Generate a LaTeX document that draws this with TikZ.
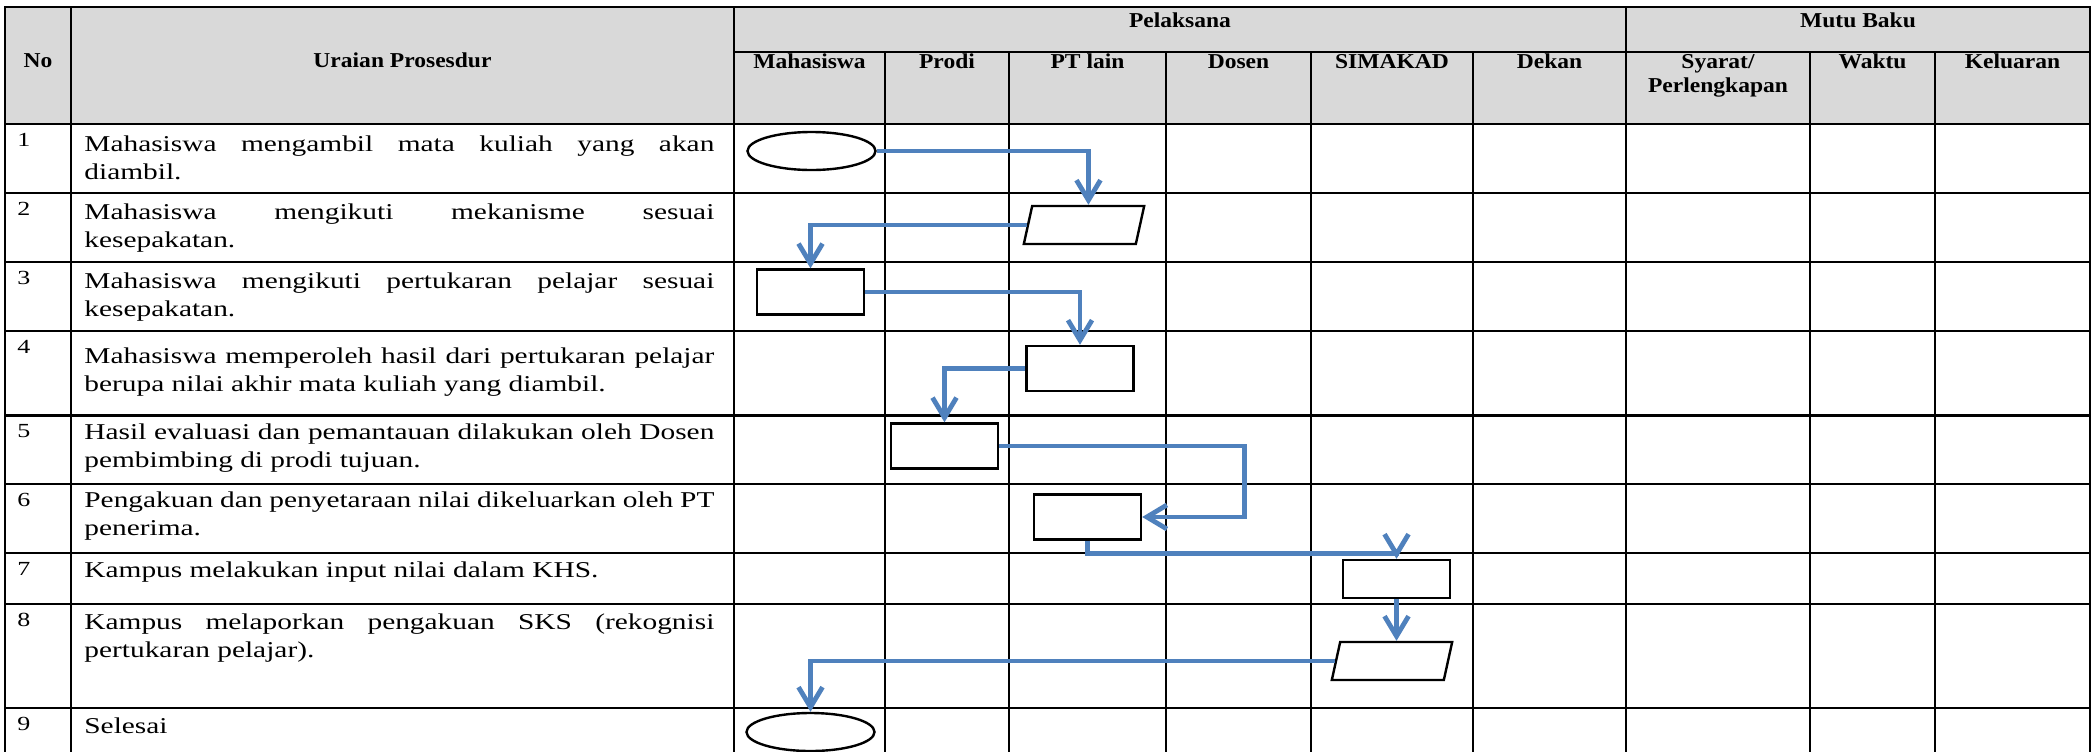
\documentclass[tikz,border=0pt]{standalone}
\usepackage{fontspec}
\usepackage{xcolor}
\usepackage{tikz}
\usetikzlibrary{arrows.meta,shapes.geometric}
\setmainfont{Liberation Serif}
\newfontfamily\bodyfont[FakeStretch=1.3]{Liberation Serif}
\newfontfamily\headfont[FakeStretch=1.11]{Liberation Serif}
\definecolor{hdrgray}{HTML}{D9D9D9}
\definecolor{flowblue}{HTML}{4F81BD}
\tikzset{fig/.style={x=0.5pt,y=-0.5pt,line join=miter},
  rule/.style={line width=1.3pt,line cap=rect},
  head/.style={inner sep=0pt,anchor=base,font=\headfont\bfseries\fontsize{10.6}{12}\selectfont},
  num/.style={inner sep=0pt,anchor=base west,font=\bodyfont\fontsize{10}{12}\selectfont},
  body/.style={inner sep=0pt,anchor=north west,text width=315pt,align=justify,
    font=\bodyfont\fontsize{11.3}{14}\selectfont,
    execute at begin node={\tolerance=10000\hyphenpenalty=10000}},
  termbox/.style={ellipse,draw,fill=white,line width=1.2pt,minimum width=64pt,minimum height=19pt,inner sep=0pt},
  procbox/.style={rectangle,draw,fill=white,line width=1.2pt,minimum width=53.5pt,minimum height=22.5pt,inner sep=0pt},
  iobox/.style={procbox,minimum width=56pt,minimum height=19pt,xslant=0.22},
  flowline/.style={flowblue,line width=2.4pt,-{Straight Barb[length=10pt,width=12pt]}}}
\begin{document}
\begin{tikzpicture}[fig]
  \useasboundingbox (0,0) rectangle (2094,751);
  \fill[white] (0,0) rectangle (2094,751);
  \fill[hdrgray] (5,7) rectangle (2090,124);
  \foreach \y in {7,124,193,262,331,415.5,484,553,604,708} \draw[rule] (5,\y) -- (2090,\y);
  \draw[rule] (734,52) -- (2090,52);
  \foreach \x in {5,71,734,1626,2090} \draw[rule] (\x,7) -- (\x,751);
  \foreach \x in {885,1009,1166,1311,1473,1810,1935} \draw[rule] (\x,52) -- (\x,751);
  \node[head] (hno) at (38,67) {No};
  \node[head] (hurai) at (402.5,67) {Uraian Prosesdur};
  \node[head] (hpel) at (1180,27) {Pelaksana};
  \node[head] (hmutu) at (1858,27) {Mutu Baku};
  \foreach \x/\t/\n in {809.5/Mahasiswa/hmhs,947/Prodi/hprodi,1087.5/PT lain/hpt,1238.5/Dosen/hdosen,1392/SIMAKAD/hsim,1549.5/Dekan/hdekan,1872.5/Waktu/hwaktu,2012.5/Keluaran/hkel}
    \node[head] (\n) at (\x,68) {\t};
  \node[head,anchor=north,align=center] (hsyarat) at (1718,54.5) {Syarat/\\Perlengkapan};
  \foreach \i/\y in {1/124,2/193,3/262,4/331,5/415.5,6/484,7/553,8/604,9/708}
    \node[num] (n\i) at (17,\y+22) {\i};
  \node[body] (u1) at (84,135.5) {Mahasiswa mengambil mata kuliah yang akan\linebreak diambil.};
  \node[body] (u2) at (84,203) {Mahasiswa mengikuti mekanisme sesuai\linebreak kesepakatan.};
  \node[body] (u3) at (84,272) {Mahasiswa mengikuti pertukaran pelajar sesuai\linebreak kesepakatan.};
  \node[body] (u4) at (84,347) {Mahasiswa memperoleh hasil dari pertukaran pelajar\linebreak berupa nilai akhir mata kuliah yang diambil.};
  \node[body] (u5) at (84,423.5) {Hasil evaluasi dan pemantauan dilakukan oleh Dosen\linebreak pembimbing di prodi tujuan.};
  \node[body] (u6) at (84,491.5) {Pengakuan dan penyetaraan nilai dikeluarkan oleh PT\linebreak penerima.};
  \node[body] (u7) at (84,561) {Kampus melakukan input nilai dalam KHS.};
  \node[body] (u8) at (84,613.5) {Kampus melaporkan pengakuan SKS (rekognisi\linebreak pertukaran pelajar).};
  \node[body] (u9) at (84,717.5) {Selesai};
  \node[termbox] (mulai) at (811.5,151) {};
  \node[iobox] (io2) at (1084,225) {};
  \node[procbox] (pr3) at (810.5,292) {};
  \node[procbox] (pr4) at (1080,368.5) {};
  \node[procbox] (pr5) at (944.5,446) {};
  \node[procbox] (pr6) at (1087.5,517) {};
  \node[procbox,minimum height=19pt] (pr7) at (1396.5,579) {};
  \node[iobox] (io8) at (1392,661) {};
  \node[termbox] (selesai) at (810.5,732) {};
  \draw[flowline] (mulai.east) -| (io2.north);
  \draw[flowline] (io2.west) -| (pr3.north);
  \draw[flowline] (pr3.east) -| (pr4.north);
  \draw[flowline] (pr4.west) -| (pr5.north);
  \draw[flowline] (pr5.east) -- ++(245,0) |- (pr6.east);
  \draw[flowline] (pr6.south) -- ++(0,13) -| (pr7.north);
  \draw[flowline] (pr7.south) -- (pr7.south |- io8.north);
  \draw[flowline] (io8.west) -| (selesai.north);
\end{tikzpicture}
\end{document}
